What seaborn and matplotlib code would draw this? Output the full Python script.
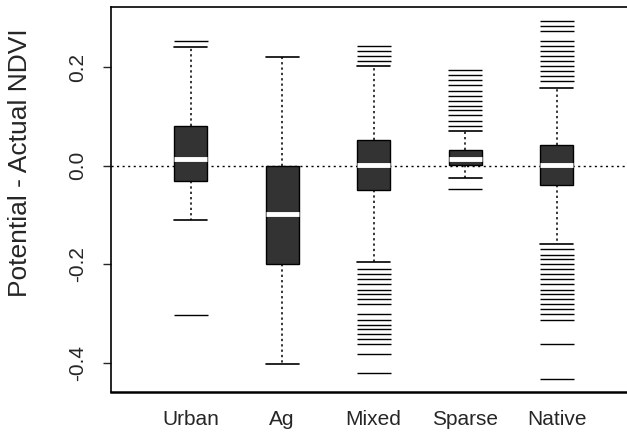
import numpy as np
import pandas as pd
import matplotlib
matplotlib.use("Agg")
import matplotlib.pyplot as plt
import seaborn as sns

# ---- values ----
groups = ["Urban", "Ag", "Mixed", "Sparse", "Native"]
q1 = [-0.030, -0.200, -0.049, 0.001, -0.039]
med = [0.013, -0.098, 0.002, 0.013, 0.002]
q3 = [0.081, 0.000, 0.053, 0.031, 0.042]
whisk_lo = [-0.110, -0.401, -0.195, -0.025, -0.158]
whisk_hi = [0.240, 0.220, 0.202, 0.071, 0.158]

out_urban = [0.252, -0.303]
out_ag = []
out_mixed = [0.212, 0.222, 0.232, 0.242,
             -0.210, -0.220, -0.230, -0.240, -0.251, -0.261, -0.271, -0.281,
             -0.301, -0.312, -0.322, -0.332, -0.342, -0.352, -0.362, -0.381, -0.421]
out_sparse = [0.081, 0.091, 0.102, 0.112, 0.122, 0.132, 0.142, 0.152,
              0.163, 0.173, 0.183, 0.195, -0.047]
out_native = [0.171, 0.181, 0.192, 0.202, 0.212, 0.222, 0.232, 0.242, 0.253,
              0.273, 0.283, 0.293,
              -0.169, -0.180, -0.190, -0.200, -0.210, -0.220, -0.230, -0.240,
              -0.251, -0.261, -0.271, -0.281, -0.291, -0.301, -0.312, -0.362, -0.432]
outliers = [out_urban, out_ag, out_mixed, out_sparse, out_native]

yticks = [-0.4, -0.2, 0.0, 0.2]
ytick_labels = ["-0.4", "-0.2", "0.0", "0.2"]

# ---- build sample data that reproduces those box statistics ----
rows = []
block = 200
for g, a, m, b, lo, hi, outs in zip(groups, q1, med, q3, whisk_lo, whisk_hi, outliers):
    vals = list(outs) + [lo, hi] + [a] * block + [m] * block + [b] * block
    rows += [(g, v) for v in vals]
df = pd.DataFrame(rows, columns=["group", "value"])

sns.set_style("ticks")
plt.rcParams["font.family"] = ["Liberation Sans", "DejaVu Sans"]

fig = plt.figure(figsize=(6.27, 4.33), dpi=100)
ax = fig.add_axes([111 / 627, 41 / 433, 516 / 627, 384.7 / 433])

ax.axhline(0, color="black", lw=1.0, ls=(0, (1.5, 2.5)), zorder=0.5)

sns.boxplot(data=df, x="group", y="value", order=groups, ax=ax,
            color="#333333", saturation=1, width=0.36, linecolor="black",
            linewidth=1.0, whis=1.5, capwidths=0.36,
            medianprops=dict(color="white", linewidth=3.5),
            whiskerprops=dict(color="black", linewidth=1.1, linestyle=(0, (1.5, 2.0))),
            capprops=dict(color="black", linewidth=1.2),
            boxprops=dict(edgecolor="black", linewidth=1.0),
            flierprops=dict(marker="_", markersize=24, markeredgewidth=1.0,
                            markeredgecolor="black", markerfacecolor="black"))

ax.set_xlim(-0.87, 4.77)
ax.set_ylim(-0.4587, 0.3211)
ax.set_yticks(yticks)
ax.set_yticklabels(ytick_labels, rotation=90, va="center", fontsize=15)
ax.tick_params(axis="y", length=6, width=1, pad=11)
ax.tick_params(axis="x", length=0, pad=13, labelsize=15)
ax.set_xlabel("")
ax.set_ylabel("Potential - Actual NDVI", fontsize=19, va="center")
ax.yaxis.set_label_coords(-0.176, 0.595)

ax.spines["right"].set_visible(False)
ax.spines["left"].set_linewidth(1.2)
ax.spines["top"].set_linewidth(1.2)
ax.spines["bottom"].set_linewidth(1.8)
for s in ax.spines.values():
    s.set_color("black")

fig.savefig("out.png", dpi=100)
